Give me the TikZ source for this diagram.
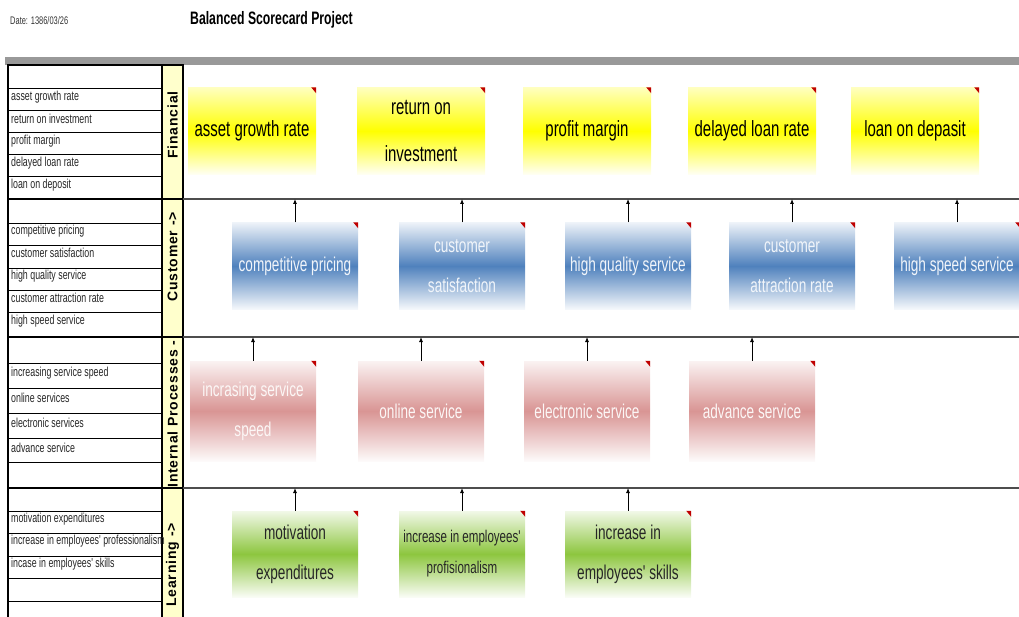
\documentclass[tikz,border=0pt]{standalone}
\usepackage{fontspec}
\usetikzlibrary{arrows.meta}
\newfontfamily\narrowfont[FakeStretch=0.68]{Liberation Sans}
\newfontfamily\lanefont[LetterSpace=6]{Liberation Sans}
\newcommand{\boxfont}[2]{\narrowfont\fontsize{#1}{#2}\selectfont}
\newcommand{\cornermark}[1]{\fill[cmt] ([xshift=-5pt]#1.north east) -- (#1.north east) -- ([yshift=-6pt]#1.north east) -- cycle;}
\definecolor{lanebg}{HTML}{FFFFCC}
\definecolor{finy}{HTML}{FFFF00}
\definecolor{cusb}{HTML}{4F81BD}
\definecolor{intr}{HTML}{D99594}
\definecolor{lrng}{HTML}{8DC63F}
\definecolor{sepgray}{HTML}{4D4D4D}
\definecolor{bargray}{HTML}{999999}
\tikzset{
  tbl/.style    ={line width=1.3pt, black},
  rowl/.style   ={line width=0.8pt, black},
  rowtxt/.style ={anchor=west, inner sep=0pt, font=\boxfont{13}{13}, text=black!85},
  lane/.style   ={rotate=90, inner sep=0pt, font=\lanefont\bfseries\fontsize{14}{14}\selectfont},
  goal/.style   ={minimum width=126pt, minimum height=87pt, inner sep=0pt, align=center},
  fin/.style    ={goal, minimum width=128pt, top color=finy!25, bottom color=finy!4, middle color=finy, font=\boxfont{22}{47}},
  cust/.style   ={goal, top color=cusb!10, bottom color=cusb!5, middle color=cusb, text=white!92!cusb, font=\boxfont{20}{40}},
  proc/.style   ={goal, minimum height=100pt, top color=intr!12, bottom color=intr!5, middle color=intr, text=white!92!intr, font=\boxfont{20}{40}},
  lrn/.style    ={goal, minimum height=86pt, top color=lrng!12, bottom color=lrng!5, middle color=lrng, text=black!85, font=\boxfont{20}{40}},
  goalarr/.style={-{Latex[length=5pt,width=4pt]}, line width=0.8pt},
  sep/.style    ={line width=1.5pt, sepgray},
  cmt/.style    ={fill=red!75!black},
}
\begin{document}
\begin{tikzpicture}[x=1pt,y=-1pt]
  \useasboundingbox (0,0) rectangle (1019,617);
  % header
  \node[anchor=west, inner sep=0pt, font=\boxfont{11}{11}, text=black!80] (date) at (10,21) {Date: 1386/03/26};
  \node[anchor=west, inner sep=0pt, font=\boxfont{18}{18}\bfseries] (title) at (190,20) {Balanced Scorecard Project};
  \fill[bargray] (5,57) rectangle (1019,65);

  % left table
  \fill[lanebg] (162,65) rectangle (183,617);
  \draw[tbl] (8,617) -- (8,65) -- (183,65) -- (183,617); \draw[tbl] (162,65) -- (162,617);
  \coordinate (sepF) at (183,199); \coordinate (sepC) at (183,337); \coordinate (sepI) at (183,488);
  \draw[tbl] (8,199) -- (sepF); \draw[tbl] (8,337) -- (sepC); \draw[tbl] (8,488) -- (sepI);
  \draw[sep] (sepF) -- (1019,199); \draw[sep] (sepC) -- (1019,337); \draw[sep] (sepI) -- (1019,488);

  \draw[rowl] (8,88) -- (162,88); \draw[rowl] (8,110) -- (162,110); \draw[rowl] (8,132) -- (162,132);
  \draw[rowl] (8,154) -- (162,154); \draw[rowl] (8,176) -- (162,176);
  \node[rowtxt] (rf1) at (11,97) {asset growth rate};
  \node[rowtxt] (rf2) at (11,119) {return on investment};
  \node[rowtxt] (rf3) at (11,141) {profit margin};
  \node[rowtxt] (rf4) at (11,163) {delayed loan rate};
  \node[rowtxt] (rf5) at (11,185) {loan on deposit};

  \draw[rowl] (8,223) -- (162,223); \draw[rowl] (8,245) -- (162,245); \draw[rowl] (8,268) -- (162,268);
  \draw[rowl] (8,290) -- (162,290); \draw[rowl] (8,312) -- (162,312);
  \node[rowtxt] (rc1) at (11,231) {competitive pricing};
  \node[rowtxt] (rc2) at (11,253) {customer satisfaction};
  \node[rowtxt] (rc3) at (11,276) {high quality service};
  \node[rowtxt] (rc4) at (11,298) {customer attraction rate};
  \node[rowtxt] (rc5) at (11,321) {high speed service};

  \draw[rowl] (8,363) -- (162,363); \draw[rowl] (8,388) -- (162,388); \draw[rowl] (8,413) -- (162,413);
  \draw[rowl] (8,438) -- (162,438); \draw[rowl] (8,462) -- (162,462);
  \node[rowtxt] (ri1) at (11,373) {increasing service speed};
  \node[rowtxt] (ri2) at (11,398) {online services};
  \node[rowtxt] (ri3) at (11,423) {electronic services};
  \node[rowtxt] (ri4) at (11,448) {advance service};

  \draw[rowl] (8,511) -- (162,511); \draw[rowl] (8,533) -- (162,533); \draw[rowl] (8,556) -- (162,556);
  \draw[rowl] (8,578) -- (162,578); \draw[rowl] (8,601) -- (162,601);
  \node[rowtxt] (rl1) at (11,519) {motivation expenditures};
  \node[rowtxt] (rl2) at (11,541) {increase in employees' professionalism};
  \node[rowtxt] (rl3) at (11,564) {incase in employees' skills};

  \node[lane] (lf) at (172.5,125) {Financial};
  \node[lane] (lc) at (172.5,257) {Customer ->};
  \node[lane] (li) at (172.5,414) {Internal Processes -};
  \node[lane] (ll) at (172.5,565) {Learning ->};

  % financial
  \node[fin] (f1) at (252,131) {asset growth rate};
  \node[fin] (f2) at (421,131) {return on\\investment};
  \node[fin] (f3) at (587,131) {profit margin};
  \node[fin] (f4) at (752,131) {delayed loan rate};
  \node[fin] (f5) at (915,131) {loan on depasit};
  \cornermark{f1} \cornermark{f2} \cornermark{f3} \cornermark{f4} \cornermark{f5}

  % customer
  \node[cust] (c1) at (295,266) {competitive pricing};
  \node[cust] (c2) at (462,266) {customer\\satisfaction};
  \node[cust] (c3) at (628,266) {high quality service};
  \node[cust] (c4) at (792,266) {customer\\attraction rate};
  \node[cust] (c5) at (957,266) {high speed service};
  \cornermark{c1} \cornermark{c2} \cornermark{c3} \cornermark{c4} \cornermark{c5}
  \draw[goalarr] (c1.north) -- (c1.north |- sepF); \draw[goalarr] (c2.north) -- (c2.north |- sepF);
  \draw[goalarr] (c3.north) -- (c3.north |- sepF); \draw[goalarr] (c4.north) -- (c4.north |- sepF);
  \draw[goalarr] (c5.north) -- (c5.north |- sepF);

  % internal processes
  \node[proc] (p1) at (253,411) {incrasing service\\speed};
  \node[proc] (p2) at (421,411) {online service};
  \node[proc] (p3) at (587,411) {electronic service};
  \node[proc] (p4) at (752,411) {advance service};
  \cornermark{p1} \cornermark{p2} \cornermark{p3} \cornermark{p4}
  \draw[goalarr] (p1.north) -- (p1.north |- sepC); \draw[goalarr] (p2.north) -- (p2.north |- sepC);
  \draw[goalarr] (p3.north) -- (p3.north |- sepC); \draw[goalarr] (p4.north) -- (p4.north |- sepC);

  % learning
  \node[lrn] (l1) at (295,554) {motivation\\expenditures};
  \node[lrn, font=\boxfont{17}{31}] (l2) at (462,554) {increase in employees'\\profisionalism};
  \node[lrn] (l3) at (628,554) {increase in\\employees' skills};
  \cornermark{l1} \cornermark{l2} \cornermark{l3}
  \draw[goalarr] (l1.north) -- (l1.north |- sepI); \draw[goalarr] (l2.north) -- (l2.north |- sepI);
  \draw[goalarr] (l3.north) -- (l3.north |- sepI);
\end{tikzpicture}
\end{document}
